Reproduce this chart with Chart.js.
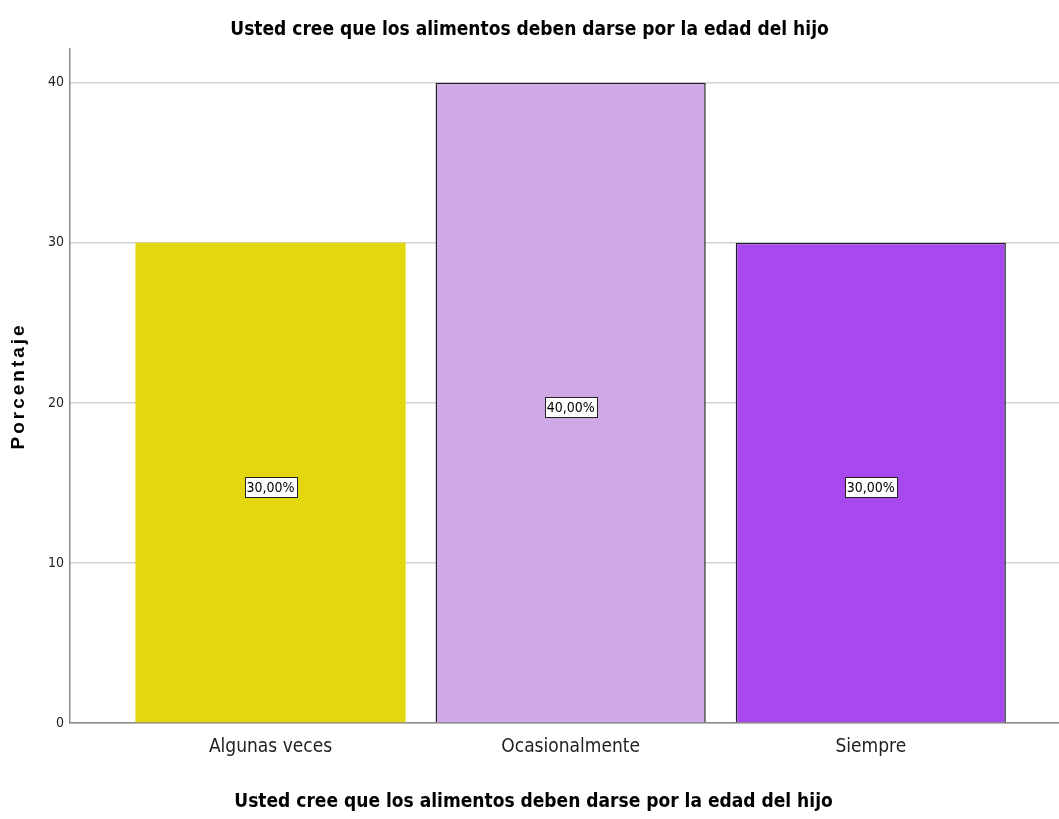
<!DOCTYPE html>
<html>
<head>
<meta charset="utf-8">
<script src="https://cdn.jsdelivr.net/npm/chart.js@4/dist/chart.umd.min.js"></script>
<style>
  html, body { margin: 0; padding: 0; background: #fff; }
  #wrap { width: 1059px; height: 819px; }
</style>
</head>
<body>
<div id="wrap"><canvas id="chart" width="1059" height="819"></canvas></div>
<script>
// --- DATOS ---
const categorias = ['Algunas veces', 'Ocasionalmente', 'Siempre'];
const porcentajes = [30, 40, 30];
const etiquetas = ['30,00%', '40,00%', '30,00%'];
const colores = ['#e3d70e', '#cfa9e5', '#a849f0'];
const bordes = [0, 1.5, 1.5];
const ticksY = [0, 10, 20, 30, 40];

const titulo = 'Usted cree que los alimentos deben darse por la edad del hijo';
const tituloY = 'Porcentaje';
const NARROW = "'Liberation Sans Narrow', 'Arial Narrow', 'DejaVu Sans Condensed', sans-serif";

// Etiquetas blancas con borde negro en mitad de cada barra
const etiquetasBarras = {
    id: 'etiquetasBarras',
    afterDatasetsDraw(chart) {
        const ctx = chart.ctx;
        const yScale = chart.scales.y;
        const meta = chart.getDatasetMeta(0);
        ctx.save();
        ctx.font = '14px ' + NARROW;
        ctx.textAlign = 'center';
        ctx.textBaseline = 'middle';
        meta.data.forEach((bar, i) => {
            const texto = etiquetas[i];
            const y = yScale.getPixelForValue(porcentajes[i] / 2) + 4;
            const w = Math.round(ctx.measureText(texto).width + 4);
            const h = 20;
            const x0 = Math.round(bar.x - w / 2);
            const y0 = Math.round(y - h / 2);
            ctx.fillStyle = '#fff';
            ctx.fillRect(x0, y0, w, h);
            ctx.strokeStyle = '#222';
            ctx.lineWidth = 1;
            ctx.strokeRect(x0 + 0.5, y0 + 0.5, w, h);
            ctx.fillStyle = '#000';
            ctx.fillText(texto, bar.x, y + 1);
        });
        ctx.restore();
    }
};

// Títulos de los ejes (Y con espaciado entre letras, X centrado como en SPSS)
const titulosEjes = {
    id: 'titulosEjes',
    afterDraw(chart) {
        const ctx = chart.ctx;
        const area = chart.chartArea;
        ctx.save();
        ctx.fillStyle = '#000';
        ctx.textAlign = 'center';
        ctx.textBaseline = 'middle';
        ctx.font = 'bold 19px ' + NARROW;
        ctx.fillText(titulo, chart.width / 2 + 4, 802);
        ctx.translate(19, (area.top + area.bottom) / 2 + 1);
        ctx.rotate(-Math.PI / 2);
        ctx.font = "bold 19px 'Liberation Sans', Arial, sans-serif";
        ctx.letterSpacing = '3px';
        ctx.fillText(tituloY, 1, 0);
        ctx.restore();
    }
};

new Chart(document.getElementById('chart'), {
    type: 'bar',
    data: {
        datasets: [{
            data: porcentajes.map((v, i) => ({ x: i, y: v })),
            backgroundColor: colores,
            borderColor: '#222',
            borderWidth: bordes,
            barPercentage: 0.9,
            categoryPercentage: 1
        }]
    },
    options: {
        responsive: false,
        animation: false,
        layout: { padding: { top: 0, right: 0, bottom: 0, left: 0 } },
        plugins: {
            legend: { display: false },
            tooltip: { enabled: false },
            title: {
                display: true,
                text: titulo,
                color: '#000',
                font: { family: NARROW, size: 19, weight: 'bold' },
                padding: { top: 19, bottom: 7 }
            }
        },
        scales: {
            x: {
                type: 'linear',
                offset: false,
                min: -0.668,
                max: 2.627,
                ticks: {
                    stepSize: 1,
                    includeBounds: false,
                    autoSkip: false,
                    maxRotation: 0,
                    color: '#222',
                    padding: 13,
                    font: { family: NARROW, size: 19 },
                    callback: v => categorias[v] ?? ''
                },
                grid: { display: false, drawTicks: false },
                border: { display: true, color: '#8a8a8a', width: 1.5 },
                title: { display: false },
                afterFit: s => { s.height = 96; }
            },
            y: {
                min: 0,
                max: 42.12,
                afterBuildTicks: s => { s.ticks = ticksY.map(v => ({ value: v })); },
                ticks: {
                    color: '#222',
                    padding: 6,
                    font: { family: NARROW, size: 14 }
                },
                grid: { color: '#d2d2d2', lineWidth: 1.5, drawTicks: false },
                border: { display: true, color: '#8a8a8a', width: 1.5 },
                title: { display: false },
                afterFit: s => { s.width = 70; }
            }
        }
    },
    plugins: [etiquetasBarras, titulosEjes]
});
</script>
</body>
</html>
